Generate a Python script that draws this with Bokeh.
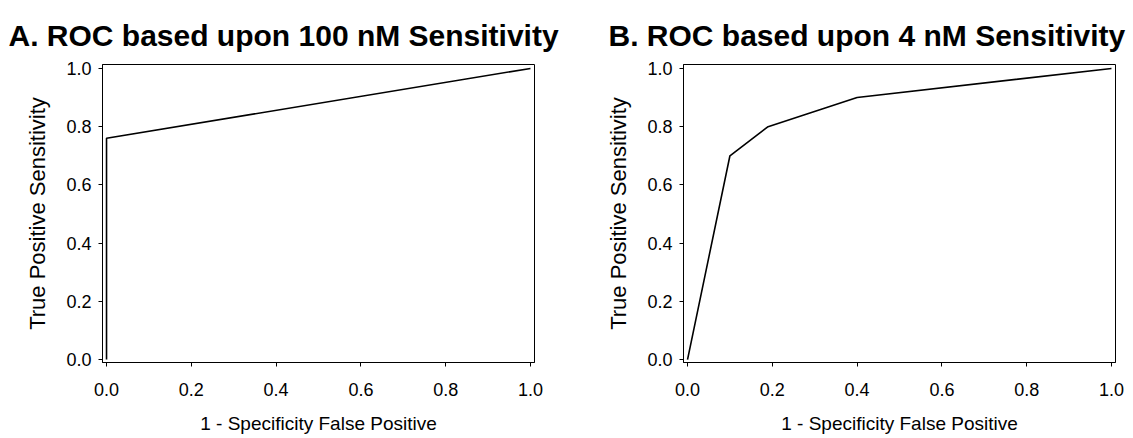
from bokeh.plotting import figure
from bokeh.layouts import row
from bokeh.models import Range1d, FixedTicker, NumeralTickFormatter
from bokeh.embed import file_html
from bokeh.resources import INLINE

# Data
titles = ["A. ROC based upon 100 nM Sensitivity", "B. ROC based upon 4 nM Sensitivity"]
x_label = "1 - Specificity False Positive"
y_label = "True Positive Sensitivity"
a_fpr = [0.0, 0.0, 1.0]
a_tpr = [0.0, 0.76, 1.0]
b_fpr = [0.0, 0.1, 0.19, 0.4, 1.0]
b_tpr = [0.0, 0.7, 0.8, 0.9, 1.0]
ticks = [0.0, 0.2, 0.4, 0.6, 0.8, 1.0]

FONT = "Liberation Sans"


def panel(title, xs, ys, width, left, right, title_off):
    p = figure(width=width, height=436, output_backend="svg", toolbar_location=None,
               x_range=Range1d(-0.0095, 1.0095), y_range=Range1d(-0.01, 1.0135),
               min_border_left=left, min_border_right=right,
               min_border_top=64, min_border_bottom=69)
    p.line(xs, ys, line_color="black", line_width=1.6)
    p.grid.visible = False
    p.outline_line_color = "black"
    p.outline_line_width = 1
    p.background_fill_color = "white"
    p.border_fill_color = "white"
    for ax in (p.xaxis[0], p.yaxis[0]):
        ax.ticker = FixedTicker(ticks=ticks)
        ax.formatter = NumeralTickFormatter(format="0.0")
        ax.minor_tick_line_color = None
        ax.major_tick_in = 0
        ax.major_tick_out = 4
        ax.major_tick_line_color = "black"
        ax.axis_line_color = "black"
        ax.major_label_text_font = FONT
        ax.major_label_text_font_size = "18px"
        ax.major_label_text_color = "black"
        ax.axis_label_text_font = FONT
        ax.axis_label_text_font_style = "normal"
        ax.axis_label_text_color = "black"
    p.xaxis[0].axis_label = x_label
    p.yaxis[0].axis_label = y_label
    p.xaxis[0].axis_label_text_font_size = "19px"
    p.yaxis[0].axis_label_text_font_size = "22px"
    p.xaxis[0].major_label_standoff = 16
    p.yaxis[0].major_label_standoff = 7
    p.xaxis[0].axis_label_standoff = 14
    p.yaxis[0].axis_label_standoff = 13
    p.title.text = title
    p.title.align = "left"
    p.title.offset = title_off
    p.title.standoff = 26
    p.title.text_line_height = 0.6
    p.title.text_font = FONT
    p.title.text_font_size = "30px"
    p.title.text_font_style = "bold"
    p.title.text_color = "black"
    return p


pa = panel(titles[0], a_fpr, a_tpr, 578, 102, 44, -94)
pb = panel(titles[1], b_fpr, b_tpr, 552, 105, 15, -75)

layout = row(pa, pb)
open("out.html", "w").write(file_html(layout, INLINE))
